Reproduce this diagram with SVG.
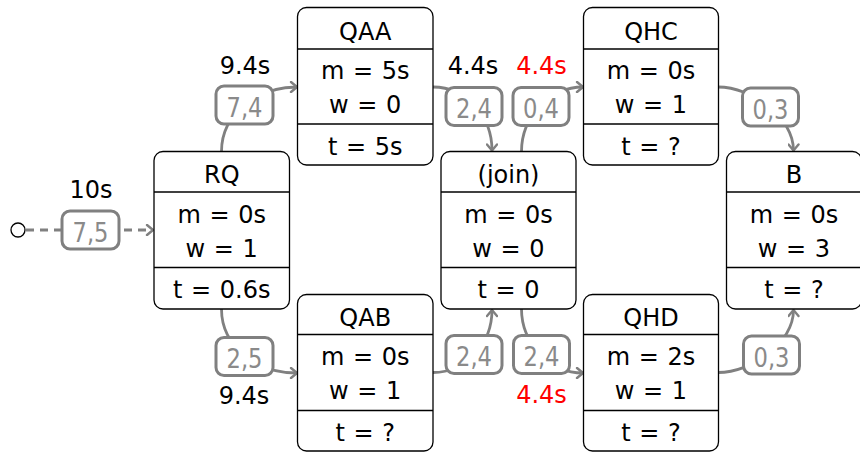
<svg xmlns="http://www.w3.org/2000/svg" width="860" height="452" viewBox="0 0 860 452">
<style>
.box{fill:#fff;stroke:#000;stroke-width:1.3}
.div{stroke:#000;stroke-width:1.3}
.t{font-family:"DejaVu Sans",sans-serif;font-size:24px;text-anchor:middle;fill:#000;word-spacing:1px}
.e{fill:none;stroke:#808080;stroke-width:2.8}
.lb{fill:#fff;stroke:#808080;stroke-width:3}
.lt{font-family:"DejaVu Sans",sans-serif;font-size:27px;text-anchor:middle;fill:#8a8a8a}
.red{fill:#ff0000}
</style>
<defs>
<marker id="ar" viewBox="-8 -6 10 12" markerWidth="10" markerHeight="12" refX="0" refY="0" orient="auto" markerUnits="userSpaceOnUse">
<path d="M-6,-5 L0,0 L-6,5" fill="none" stroke="#808080" stroke-width="2.4" stroke-linecap="round" stroke-linejoin="round"/>
</marker>
</defs>
<g id="connectors">
<circle cx="18" cy="230" r="7" fill="#fff" stroke="#000" stroke-width="1.3"/>
<path class="e" d="M26,230 L153,230" stroke-dasharray="8,6" marker-end="url(#ar)"/>
<path class="e" d="M221.5,151.5 C221.5,112.5 259,87 297,87" marker-end="url(#ar)"/>
<path class="e" d="M221.5,309 C221.5,348 259,373 297,373" marker-end="url(#ar)"/>
<path class="e" d="M433,87 C467,87 492,117 492,150.5" marker-end="url(#ar)"/>
<path class="e" d="M521.5,151.5 C521.5,117 550,87 583,87" marker-end="url(#ar)"/>
<path class="e" d="M433,372.5 C467,372.5 492,343 492,310" marker-end="url(#ar)"/>
<path class="e" d="M521.5,309 C521.5,343 550,373 583,373" marker-end="url(#ar)"/>
<path class="e" d="M718,87 C752,87 793.5,117 793.5,150.5" marker-end="url(#ar)"/>
<path class="e" d="M718,372.5 C752,372.5 793.5,343 793.5,310" marker-end="url(#ar)"/>
<rect class="lb" x="62" y="211" width="57" height="38" rx="8"/>
<text class="lt" x="90.5" y="241.5" textLength="36" lengthAdjust="spacingAndGlyphs">7,5</text>
<text class="t" x="91" y="198">10s</text>
<rect class="lb" x="216" y="86" width="57" height="38" rx="8"/>
<text class="lt" x="244.5" y="116.5" textLength="36" lengthAdjust="spacingAndGlyphs">7,4</text>
<text class="t" x="245" y="74">9.4s</text>
<rect class="lb" x="216" y="337.5" width="57" height="38" rx="8"/>
<text class="lt" x="244.5" y="368" textLength="36" lengthAdjust="spacingAndGlyphs">2,5</text>
<text class="t" x="244" y="404">9.4s</text>
<rect class="lb" x="446" y="87.5" width="56" height="38" rx="8"/>
<text class="lt" x="474" y="118" textLength="36" lengthAdjust="spacingAndGlyphs">2,4</text>
<text class="t" x="473" y="74">4.4s</text>
<rect class="lb" x="513" y="87.5" width="56" height="38" rx="8"/>
<text class="lt" x="541" y="118" textLength="36" lengthAdjust="spacingAndGlyphs">0,4</text>
<text class="t red" x="541.5" y="74">4.4s</text>
<rect class="lb" x="446" y="335.5" width="56" height="38" rx="8"/>
<text class="lt" x="474" y="366" textLength="36" lengthAdjust="spacingAndGlyphs">2,4</text>
<rect class="lb" x="513.5" y="335.5" width="56" height="38" rx="8"/>
<text class="lt" x="541.5" y="366" textLength="36" lengthAdjust="spacingAndGlyphs">2,4</text>
<text class="t red" x="541.5" y="403">4.4s</text>
<rect class="lb" x="742.5" y="88" width="56" height="38" rx="8"/>
<text class="lt" x="770.5" y="118.5" textLength="36" lengthAdjust="spacingAndGlyphs">0,3</text>
<rect class="lb" x="743.5" y="336" width="56" height="38" rx="8"/>
<text class="lt" x="771.5" y="366.5" textLength="36" lengthAdjust="spacingAndGlyphs">0,3</text>
</g>
<g id="RQ" transform="translate(154,151.5)">
<rect class="box" x="0" y="0" width="135.5" height="157.5" rx="9"/>
<line class="div" x1="0" y1="40.5" x2="135.5" y2="40.5"/>
<line class="div" x1="0" y1="116" x2="135.5" y2="116"/>
<text class="t" x="67.75" y="31">RQ</text>
<text class="t" x="67.75" y="71">m = 0s</text>
<text class="t" x="67.75" y="105">w = 1</text>
<text class="t" x="67.75" y="146">t = 0.6s</text>
</g>
<g id="QAA" transform="translate(297.5,7.5)">
<rect class="box" x="0" y="0" width="135.5" height="157.5" rx="9"/>
<line class="div" x1="0" y1="41.5" x2="135.5" y2="41.5"/>
<line class="div" x1="0" y1="116.5" x2="135.5" y2="116.5"/>
<text class="t" x="67.75" y="32">QAA</text>
<text class="t" x="67.75" y="71">m = 5s</text>
<text class="t" x="67.75" y="105.5">w = 0</text>
<text class="t" x="67.75" y="147">t = 5s</text>
</g>
<g id="QAB" transform="translate(297.5,294.5)">
<rect class="box" x="0" y="0" width="135.5" height="156.5" rx="9"/>
<line class="div" x1="0" y1="40" x2="135.5" y2="40"/>
<line class="div" x1="0" y1="116" x2="135.5" y2="116"/>
<text class="t" x="67.75" y="31">QAB</text>
<text class="t" x="67.75" y="70">m = 0s</text>
<text class="t" x="67.75" y="104.5">w = 1</text>
<text class="t" x="67.75" y="146">t = ?</text>
</g>
<g id="join" transform="translate(441,151.5)">
<rect class="box" x="0" y="0" width="135" height="157.5" rx="9"/>
<line class="div" x1="0" y1="40.5" x2="135" y2="40.5"/>
<line class="div" x1="0" y1="116" x2="135" y2="116"/>
<text class="t" x="67.5" y="31">(join)</text>
<text class="t" x="67.5" y="71">m = 0s</text>
<text class="t" x="67.5" y="105">w = 0</text>
<text class="t" x="67.5" y="146">t = 0</text>
</g>
<g id="QHC" transform="translate(583.5,7.5)">
<rect class="box" x="0" y="0" width="135" height="157.5" rx="9"/>
<line class="div" x1="0" y1="41.5" x2="135" y2="41.5"/>
<line class="div" x1="0" y1="116.5" x2="135" y2="116.5"/>
<text class="t" x="67.5" y="32">QHC</text>
<text class="t" x="67.5" y="71">m = 0s</text>
<text class="t" x="67.5" y="105.5">w = 1</text>
<text class="t" x="67.5" y="147">t = ?</text>
</g>
<g id="QHD" transform="translate(583.5,294.5)">
<rect class="box" x="0" y="0" width="135" height="156.5" rx="9"/>
<line class="div" x1="0" y1="40" x2="135" y2="40"/>
<line class="div" x1="0" y1="116" x2="135" y2="116"/>
<text class="t" x="67.5" y="31">QHD</text>
<text class="t" x="67.5" y="70">m = 2s</text>
<text class="t" x="67.5" y="104.5">w = 1</text>
<text class="t" x="67.5" y="146">t = ?</text>
</g>
<g id="B" transform="translate(726.5,151.5)">
<rect class="box" x="0" y="0" width="135" height="157.5" rx="9"/>
<line class="div" x1="0" y1="40.5" x2="135" y2="40.5"/>
<line class="div" x1="0" y1="116" x2="135" y2="116"/>
<text class="t" x="67.5" y="31">B</text>
<text class="t" x="67.5" y="71">m = 0s</text>
<text class="t" x="67.5" y="105">w = 3</text>
<text class="t" x="67.5" y="146">t = ?</text>
</g>
</svg>
